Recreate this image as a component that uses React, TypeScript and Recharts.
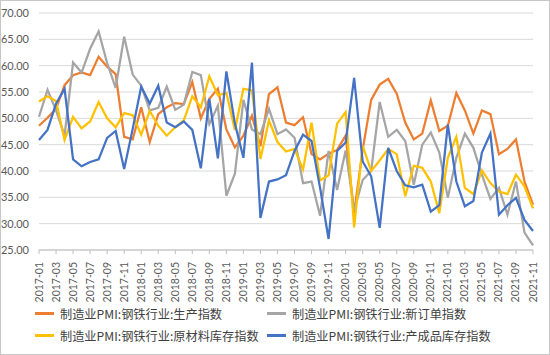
import { LineChart, Line, XAxis, YAxis, CartesianGrid, Legend } from "recharts";

const months = [
  "2017-01", "2017-02", "2017-03", "2017-04", "2017-05", "2017-06", "2017-07", "2017-08", "2017-09", "2017-10", "2017-11", "2017-12",
  "2018-01", "2018-02", "2018-03", "2018-04", "2018-05", "2018-06", "2018-07", "2018-08", "2018-09", "2018-10", "2018-11", "2018-12",
  "2019-01", "2019-02", "2019-03", "2019-04", "2019-05", "2019-06", "2019-07", "2019-08", "2019-09", "2019-10", "2019-11", "2019-12",
  "2020-01", "2020-02", "2020-03", "2020-04", "2020-05", "2020-06", "2020-07", "2020-08", "2020-09", "2020-10", "2020-11", "2020-12",
  "2021-01", "2021-02", "2021-03", "2021-04", "2021-05", "2021-06", "2021-07", "2021-08", "2021-09", "2021-10", "2021-11",
];

// 生产指数
const production = [
  48.6, 50.1, 51.8, 56.3, 58.2, 58.7, 58.2, 61.7, 59.8, 58.4, 46.5, 46.0,
  52.1, 45.5, 50.8, 52.1, 52.9, 52.7, 56.9, 50.0, 53.7, 55.6, 47.9, 44.5,
  46.7, 50.5, 44.7, 54.6, 55.9, 49.2, 48.7, 50.2, 43.2, 42.2, 43.3, 44.0,
  46.7, 32.0, 44.0, 53.5, 56.4, 57.5, 54.7, 49.2, 46.0, 47.1, 53.4, 47.6,
  48.6, 54.8, 51.5, 47.1, 51.5, 50.8, 43.2, 44.2, 46.0, 38.0, 33.6,
];

// 新订单指数
const newOrders = [
  50.3, 55.4, 51.5, 46.7, 60.6, 58.7, 63.2, 66.5, 60.5, 55.8, 65.5, 58.3,
  56.2, 51.5, 52.0, 56.0, 51.6, 52.6, 58.8, 58.2, 48.9, 52.4, 35.3, 39.5,
  53.5, 47.9, 47.0, 51.8, 47.0, 47.9, 46.3, 37.7, 38.0, 31.5, 43.8, 36.4,
  43.9, 32.5, 38.3, 40.0, 53.1, 46.5, 47.8, 45.7, 37.4, 45.0, 47.3, 43.5,
  34.9, 42.5, 47.1, 44.4, 39.3, 34.7, 36.8, 31.7, 38.0, 28.3, 25.9,
];

// 原材料库存指数
const rawStock = [
  53.2, 54.2, 53.3, 45.9, 50.3, 48.1, 49.4, 53.1, 50.0, 48.3, 51.0, 50.6,
  46.9, 51.4, 48.6, 46.7, 48.3, 49.6, 54.2, 52.1, 58.0, 54.4, 54.8, 47.8,
  55.6, 55.3, 42.3, 49.6, 45.5, 43.7, 44.2, 40.3, 49.2, 38.2, 39.2, 49.0,
  51.2, 29.3, 44.8, 40.0, 42.0, 44.2, 43.2, 35.2, 41.0, 40.6, 38.0, 32.0,
  42.5, 46.5, 36.8, 35.6, 40.1, 37.7, 36.1, 35.6, 39.3, 37.1, 32.9,
];

// 产成品库存指数
const finishedStock = [
  45.9, 47.8, 52.8, 55.6, 42.2, 40.9, 41.7, 42.2, 46.3, 47.6, 40.4, 48.0,
  56.0, 52.8, 56.2, 49.2, 48.3, 49.4, 47.8, 40.5, 53.7, 42.4, 58.9, 49.0,
  42.5, 60.6, 31.1, 38.0, 38.4, 39.2, 43.8, 46.9, 45.7, 36.8, 27.1, 43.8,
  45.4, 57.7, 41.8, 39.0, 29.2, 44.4, 40.0, 37.3, 36.9, 37.4, 32.3, 33.5,
  48.8, 38.0, 33.3, 34.3, 43.5, 47.1, 31.7, 33.5, 34.9, 30.7, 28.6,
];

const yTicks = [25, 30, 35, 40, 45, 50, 55, 60, 65, 70];

const series = [
  { key: "production", name: "制造业PMI:钢铁行业:生产指数", color: "#ED7D31" },
  { key: "newOrders", name: "制造业PMI:钢铁行业:新订单指数", color: "#A5A5A5" },
  { key: "rawStock", name: "制造业PMI:钢铁行业:原材料库存指数", color: "#FFC000" },
  { key: "finishedStock", name: "制造业PMI:钢铁行业:产成品库存指数", color: "#4472C4" },
];

const data = months.map((m, i) => ({
  month: m,
  production: production[i],
  newOrders: newOrders[i],
  rawStock: rawStock[i],
  finishedStock: finishedStock[i],
}));

const tickFont = "Lato, 'Liberation Sans', sans-serif";

function MonthTick({ x, y, payload }: { x?: number; y?: number; payload?: { value: string } }) {
  return (
    <g transform={`translate(${x},${y})`}>
      <text
        transform="rotate(-90)"
        x={-6}
        dy={3.5}
        textAnchor="end"
        fill="#595959"
        fontSize={10.5}
        fontFamily={tickFont}
      >
        {payload?.value}
      </text>
    </g>
  );
}

function ChartLegend() {
  return (
    <div
      style={{
        display: "grid",
        gridTemplateColumns: "232px 250px",
        rowGap: 3,
        paddingLeft: 34,
        paddingTop: 4,
        fontFamily: "'Noto Sans CJK SC', sans-serif",
        fontSize: 12.2,
        color: "#404040",
        whiteSpace: "nowrap",
      }}
    >
      {series.map((s) => (
        <div key={s.key} style={{ display: "flex", alignItems: "center", height: 19 }}>
          <span
            style={{
              display: "inline-block",
              width: 19,
              height: 2.5,
              background: s.color,
              marginRight: 6,
            }}
          />
          <span>{s.name}</span>
        </div>
      ))}
    </div>
  );
}

export default function App() {
  return (
    <div
      style={{
        position: "absolute",
        left: 0,
        top: 0,
        width: 550,
        height: 355,
        boxSizing: "border-box",
        border: "1px solid #c8c8c8",
        background: "#fff",
      }}
    >
      <LineChart
        width={548}
        height={353}
        data={data}
        margin={{ top: 12, right: 16, left: 0, bottom: 8 }}
      >
        <CartesianGrid stroke="#d9d9d9" vertical={false} />
        <XAxis
          dataKey="month"
          interval={1}
          tick={<MonthTick />}
          tickLine={{ stroke: "#bfbfbf" }}
          tickSize={4}
          axisLine={{ stroke: "#bfbfbf" }}
          height={50}
        />
        <YAxis
          domain={[25, 70]}
          ticks={yTicks}
          tickFormatter={(v: number) => v.toFixed(2)}
          tick={{ fill: "#595959", fontSize: 11, fontFamily: tickFont }}
          axisLine={false}
          tickLine={false}
          width={38}
          tickMargin={4}
        />
        <Legend
          verticalAlign="bottom"
          content={<ChartLegend />}
          wrapperStyle={{ height: 46 }}
        />
        {series.map((s) => (
          <Line
            key={s.key}
            type="linear"
            dataKey={s.key}
            name={s.name}
            stroke={s.color}
            strokeWidth={2.25}
            dot={false}
            isAnimationActive={false}
          />
        ))}
      </LineChart>
    </div>
  );
}
